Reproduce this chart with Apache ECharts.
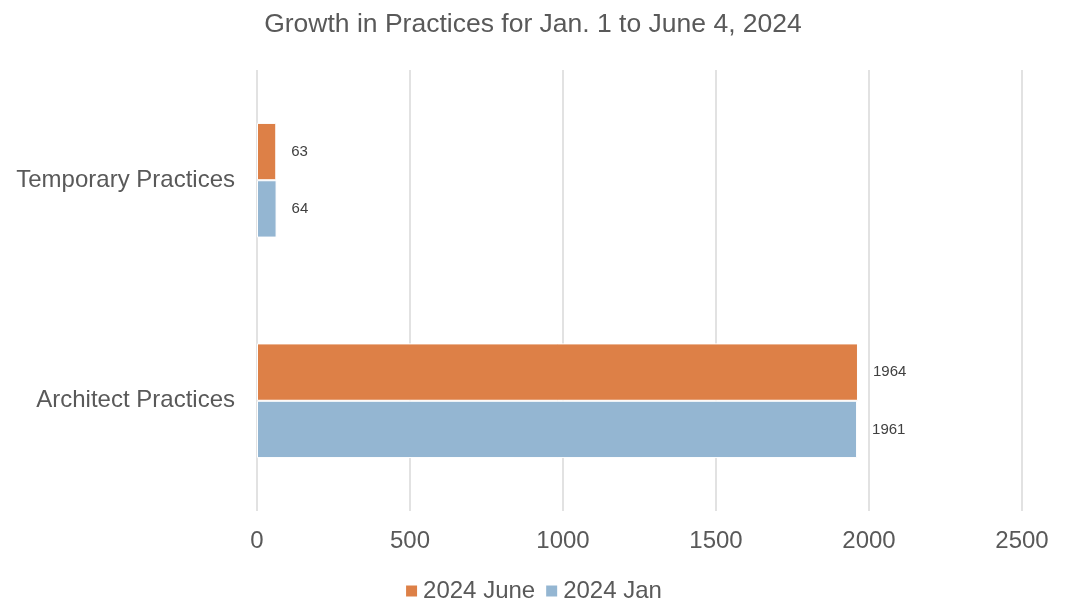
<!DOCTYPE html>
<html>
<head>
<meta charset="utf-8">
<script src="https://cdn.jsdelivr.net/npm/echarts@6/dist/echarts.min.js"></script>
<style>html,body{margin:0;padding:0;background:#fff;}#c{width:1066px;height:610px;}</style>
</head>
<body>
<div id="c"></div>
<script>
const categories = ['Architect Practices', 'Temporary Practices'];
const juneValues = [1964, 63];
const janValues = [1961, 64];
const xTicks = [0, 500, 1000, 1500, 2000, 2500];

const chart = echarts.init(document.getElementById('c'));
const font = 'Liberation Sans, Arial, sans-serif';
const labelStyle = { show: true, position: 'right', distance: 15, fontFamily: font, fontSize: 15, color: '#404040' };
chart.setOption({
  animation: false,
  title: {
    text: 'Growth in Practices for Jan. 1 to June 4, 2024',
    left: 'center', top: 6,
    textStyle: { fontFamily: font, fontSize: 26.5, fontWeight: 'normal', color: '#595959' }
  },
  legend: {
    data: ['2024 June', '2024 Jan'],
    bottom: 2, left: 'center',
    itemWidth: 13, itemHeight: 13, itemGap: 9,
    icon: 'rect',
    textStyle: { fontFamily: font, fontSize: 24, color: '#595959' }
  },
  grid: { left: 257, right: 44, top: 70, height: 441, containLabel: false },
  xAxis: {
    type: 'value', min: xTicks[0], max: xTicks[xTicks.length-1], interval: 500,
    axisLine: { show: false }, axisTick: { show: false },
    splitLine: { lineStyle: { color: '#d9d9d9', width: 1.5 } },
    axisLabel: { fontFamily: font, fontSize: 24, color: '#595959', margin: 18, formatter: v => String(v) }
  },
  yAxis: {
    type: 'category', data: categories,
    axisLine: { show: false }, axisTick: { show: false },
    axisLabel: { fontFamily: font, fontSize: 24, color: '#595959', margin: 22 }
  },
  series: [
    {
      name: '2024 June', type: 'bar', data: juneValues,
      barGap: '0%', barCategoryGap: '48%',
      itemStyle: { color: '#dd8047', borderColor: '#fff', borderWidth: 1 },
      label: labelStyle
    },
    {
      name: '2024 Jan', type: 'bar', data: janValues,
      barGap: '0%', barCategoryGap: '48%',
      itemStyle: { color: '#94b6d2', borderColor: '#fff', borderWidth: 1 },
      label: labelStyle
    }
  ]
});
</script>
</body>
</html>
